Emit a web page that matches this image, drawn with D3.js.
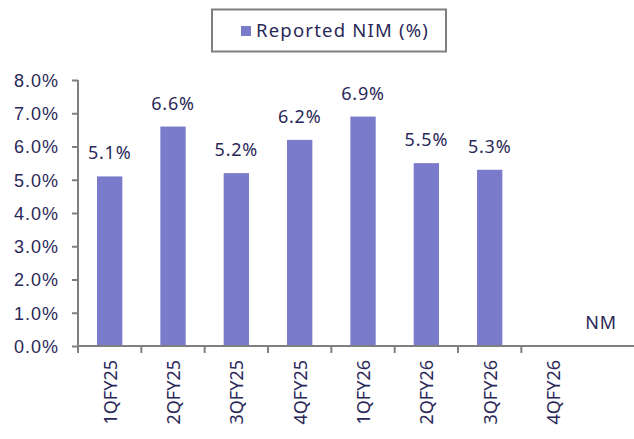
<!DOCTYPE html>
<html><head><meta charset="utf-8">
<script src="https://cdn.jsdelivr.net/npm/d3@7"></script>
<style>body{margin:0;background:#fff;}svg{display:block;font-family:"Noto Sans",sans-serif;}</style>
</head><body><svg id="c" width="634" height="439"></svg>
<script>
const categories = ["1QFY25","2QFY25","3QFY25","4QFY25","1QFY26","2QFY26","3QFY26","4QFY26"];
const values = [5.1, 6.6, 5.2, 6.2, 6.9, 5.5, 5.3, null];
const valueLabels = ["5.1%","6.6%","5.2%","6.2%","6.9%","5.5%","5.3%","NM"];
const yTicks = [0,1,2,3,4,5,6,7,8];
const seriesName = "Reported NIM (%)";

const svg = d3.select("#c");
const textColor = "#2a2858", barColor = "#7b7bcb", axisColor = "#7f7f7f";
const x = d3.scaleBand().domain(categories).range([78, 584.7]).paddingInner(0.6).paddingOuter(0.3);
const y = d3.scaleLinear().domain([0, 8]).range([346, 80]);

// y axis
const ya = svg.append("g").attr("transform","translate(78,0)")
  .call(d3.axisLeft(y).tickValues(yTicks).tickSize(6).tickPadding(13).tickFormat(d => d.toFixed(1) + "%"));
ya.select(".domain").attr("stroke", axisColor).attr("stroke-width",2).attr("d","M0,80V347");
ya.selectAll(".tick line").attr("stroke", axisColor).attr("stroke-width",2);
ya.selectAll(".tick text").attr("fill", textColor).attr("font-size",18).attr("letter-spacing",1).attr("dy","0.35em");

// bars
const step = x.step();
svg.append("g").selectAll("rect").data(categories.filter((c,i)=>values[i]!=null)).join("rect")
  .attr("x", c => x(c)).attr("width", x.bandwidth())
  .attr("y", c => y(values[categories.indexOf(c)]))
  .attr("height", c => y(0) - y(values[categories.indexOf(c)]))
  .attr("fill", barColor);

// x axis
const xa = svg.append("g").attr("transform","translate(0,346)");
xa.append("line").attr("x1",77).attr("x2",634).attr("y1",0).attr("y2",0).attr("stroke",axisColor).attr("stroke-width",2);
const bounds = categories.map((c,i)=> x(c) - (step - x.bandwidth())/2);
xa.selectAll("line.t").data(bounds).join("line").attr("class","t")
  .attr("x1",d=>d).attr("x2",d=>d).attr("y1",0).attr("y2",7).attr("stroke",axisColor).attr("stroke-width",2);
xa.selectAll("text").data(categories).join("text")
  .attr("transform", c => `translate(${x(c)+x.bandwidth()/2+7},14) rotate(-90)`)
  .attr("text-anchor","end").attr("fill",textColor).attr("font-size",18).text(c=>c);

// value labels
svg.append("g").selectAll("text").data(categories).join("text")
  .attr("x", (c,i) => values[i]==null ? 601 : x(c)+x.bandwidth()/2)
  .attr("y", (c,i) => values[i]==null ? 329 : y(values[i]) - 17)
  .attr("text-anchor","middle").attr("fill",textColor).attr("font-size",18).attr("letter-spacing",0.8)
  .text((c,i)=>valueLabels[i]);

// legend
const lg = svg.append("g");
lg.append("rect").attr("x",212).attr("y",9.5).attr("width",234).attr("height",42)
  .attr("fill","#fff").attr("stroke",axisColor).attr("stroke-width",2);
lg.append("rect").attr("x",241).attr("y",26).attr("width",10).attr("height",10).attr("fill",barColor);
lg.append("text").attr("x",256).attr("y",37).attr("fill",textColor).attr("font-size",18.5).attr("letter-spacing",1.2).text(seriesName);
</script></body></html>
